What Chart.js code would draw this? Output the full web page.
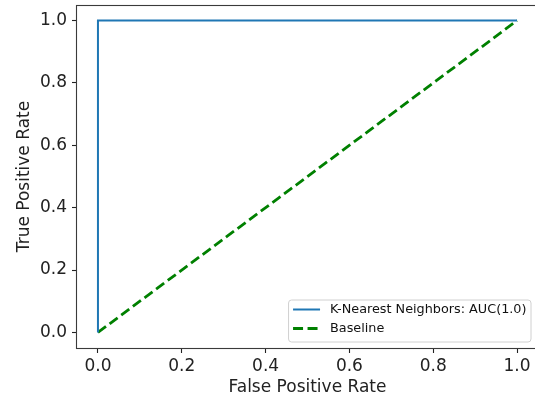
<!DOCTYPE html>
<html>
<head>
<meta charset="utf-8">
<script src="https://cdn.jsdelivr.net/npm/chart.js@4.4.0/dist/chart.umd.min.js"></script>
<style>
html,body{margin:0;padding:0;background:#fff;overflow:hidden;width:535px;height:398px;}
#wrap{width:545px;height:398px;position:absolute;left:0;top:0;}
canvas{display:block;width:545px;height:398px;}
</style>
</head>
<body>
<div id="wrap"><canvas id="c" width="545" height="398"></canvas></div>
<script>
// ---- data ----
const knnFpr = [0.0, 0.0, 1.0];
const knnTpr = [0.0, 1.0, 1.0];
const baseFpr = [0.0, 1.0];
const baseTpr = [0.0, 1.0];
const seriesLabels = ['K-Nearest Neighbors: AUC(1.0)', 'Baseline'];
const xTicks = [0.0, 0.2, 0.4, 0.6, 0.8, 1.0];
const yTicks = [0.0, 0.2, 0.4, 0.6, 0.8, 1.0];
const xTitle = 'False Positive Rate';
const yTitle = 'True Positive Rate';

const FONT = "'DejaVu Sans', sans-serif";
const toPts = (xs, ys) => xs.map((x, i) => ({x: x, y: ys[i]}));

const framePlugin = {
  id: 'frame',
  afterDraw(chart) {
    const {ctx, chartArea: a} = chart;
    ctx.save();
    ctx.strokeStyle = '#3a3a3a';
    ctx.lineWidth = 1.1;
    ctx.strokeRect(Math.round(a.left) - 0.5, Math.round(a.top) + 0.5, Math.round(a.right - a.left), Math.round(a.bottom - a.top));
    ctx.restore();
  }
};

const legendPlugin = {
  id: 'mplLegend',
  afterDraw(chart) {
    const {ctx, chartArea: a} = chart;
    const ds = chart.data.datasets;
    ctx.save();
    ctx.font = "12.8px " + FONT;
    let tw = 0;
    ds.forEach(d => { tw = Math.max(tw, ctx.measureText(d.label).width); });
    const right = a.right - 7, bottom = a.bottom - 6;
    const rowH = 19;
    const h = 42;
    const w = 4.5 + 27 + 10 + tw + 4.5;
    const left = right - w, top = bottom - h;
    ctx.beginPath();
    const r = 3;
    ctx.moveTo(left + r, top);
    ctx.lineTo(right - r, top); ctx.quadraticCurveTo(right, top, right, top + r);
    ctx.lineTo(right, bottom - r); ctx.quadraticCurveTo(right, bottom, right - r, bottom);
    ctx.lineTo(left + r, bottom); ctx.quadraticCurveTo(left, bottom, left, bottom - r);
    ctx.lineTo(left, top + r); ctx.quadraticCurveTo(left, top, left + r, top);
    ctx.closePath();
    ctx.fillStyle = 'rgba(255,255,255,0.8)';
    ctx.fill();
    ctx.strokeStyle = '#d0d0d0';
    ctx.lineWidth = 1;
    ctx.stroke();
    ds.forEach((d, i) => {
      const y = top + 9.5 + i * rowH;
      ctx.beginPath();
      ctx.strokeStyle = d.borderColor;
      ctx.lineWidth = d.borderWidth;
      ctx.setLineDash(d.borderDash || []);
      ctx.moveTo(left + 4.5, y);
      ctx.lineTo(left + 4.5 + 27, y);
      ctx.stroke();
      ctx.setLineDash([]);
      ctx.fillStyle = '#111';
      ctx.textBaseline = 'middle';
      ctx.textAlign = 'left';
      ctx.fillText(d.label, left + 4.5 + 27 + 10, y + 0.5);
    });
    ctx.restore();
  }
};

new Chart(document.getElementById('c'), {
  type: 'scatter',
  data: {
    datasets: [
      {
        label: seriesLabels[0],
        data: toPts(knnFpr, knnTpr),
        showLine: true,
        borderColor: '#1f77b4',
        backgroundColor: '#1f77b4',
        borderWidth: 2,
        pointRadius: 0,
        tension: 0
      },
      {
        label: seriesLabels[1],
        data: toPts(baseFpr, baseTpr),
        showLine: true,
        borderColor: '#008000',
        backgroundColor: '#008000',
        borderWidth: 2.8,
        borderDash: [10, 4.5],
        pointRadius: 0,
        tension: 0
      }
    ]
  },
  options: {
    responsive: false,
    animation: false,
    devicePixelRatio: 1,
    layout: {padding: {left: 0, top: 5, right: 7, bottom: 0}},
    plugins: {legend: {display: false}, tooltip: {enabled: false}},
    scales: {
      x: {
        type: 'linear',
        min: -0.05, max: 1.05,
        afterBuildTicks: s => { s.ticks = xTicks.map(v => ({value: v})); },
        afterFit: s => { s.height = 50; s.paddingLeft = 0; s.paddingRight = 0; },
        grid: {drawOnChartArea: false, drawTicks: true, tickLength: 5, tickWidth: 1.1, tickColor: '#222'},
        border: {display: false},
        ticks: {color: '#222', font: {family: FONT, size: 17}, padding: 3, maxRotation: 0,
                callback: v => Number(v).toFixed(1)},
        title: {display: true, text: xTitle, color: '#222', font: {family: FONT, size: 17}, padding: {top: 0, bottom: 0}}
      },
      y: {
        type: 'linear',
        min: -0.05, max: 1.05,
        afterBuildTicks: s => { s.ticks = yTicks.map(v => ({value: v})); },
        afterFit: s => { s.width = 77; s.paddingTop = 0; s.paddingBottom = 0; },
        grid: {drawOnChartArea: false, drawTicks: true, tickLength: 5, tickWidth: 1.1, tickColor: '#222'},
        border: {display: false},
        ticks: {color: '#222', font: {family: FONT, size: 17}, padding: 5,
                callback: v => Number(v).toFixed(1)},
        title: {display: true, text: yTitle, color: '#222', font: {family: FONT, size: 17}, padding: {top: 14, bottom: 0}}
      }
    }
  },
  plugins: [framePlugin, legendPlugin]
});
</script>
</body>
</html>
